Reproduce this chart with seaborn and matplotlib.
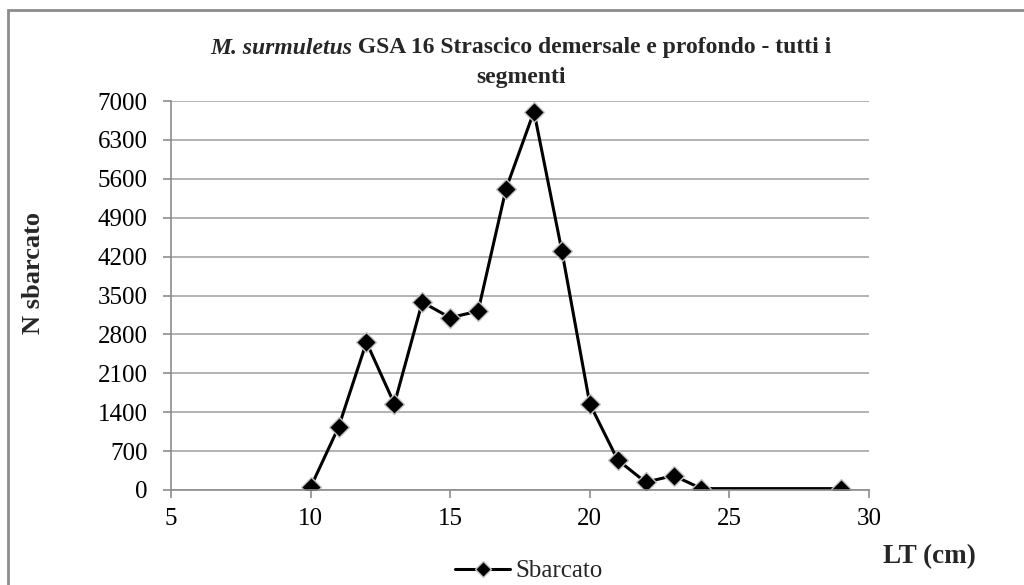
import matplotlib
matplotlib.use("Agg")
import matplotlib.pyplot as plt
import seaborn as sns
import pandas as pd
from matplotlib.patches import Rectangle
from matplotlib.lines import Line2D

lt_cm = [10, 11, 12, 13, 14, 15, 16, 17, 18, 19, 20, 21, 22, 23, 24, 29]
n_sbarcato = [50, 1130, 2660, 1550, 3380, 3100, 3220, 5420, 6810, 4300, 1550, 540, 140, 260, 25, 25]
series_name = "Sbarcato"
x_ticks = [5, 10, 15, 20, 25, 30]
y_ticks = [0, 700, 1400, 2100, 2800, 3500, 4200, 4900, 5600, 6300, 7000]

sns.set_theme(style="white")
plt.rcParams['font.family'] = ['Liberation Serif', 'DejaVu Serif']

df = pd.DataFrame({"LT": lt_cm, "N": n_sbarcato, "serie": series_name})

fig = plt.figure(figsize=(10.24, 5.85), dpi=100)
ax = fig.add_axes([171/1024, 1-490/585, (869-171)/1024, (490-101)/585])

sns.lineplot(data=df, x="LT", y="N", hue="serie", palette=["black"], ax=ax,
             marker="D", markersize=10.5, markeredgecolor="#c4c4c4", markeredgewidth=1.0,
             linewidth=2.2, legend=False)

ax.set_xlim(5, 30)
ax.set_ylim(0, 7000)
ax.set_xticks(x_ticks)
ax.set_yticks(y_ticks)
ax.set_xticklabels([str(v) for v in x_ticks], fontsize=18)
ax.set_yticklabels([str(v) for v in y_ticks], fontsize=18)
ax.yaxis.grid(True, color="#a6a6a6", linewidth=1.2)
ax.xaxis.grid(False)
for s in ["top", "right"]:
    ax.spines[s].set_visible(False)
for s in ["left", "bottom"]:
    ax.spines[s].set_color("#8c8c8c")
    ax.spines[s].set_linewidth(1.2)
ax.tick_params(axis="both", direction="out", length=6, color="#8c8c8c", width=1.2,
               left=True, bottom=True, labelcolor="black")
ax.tick_params(axis="y", pad=11)
ax.tick_params(axis="x", pad=7)
ax.set_xlabel("")
ax.set_ylabel("")

fig.text(34/1024, 1-273/585, "N sbarcato", rotation=90, fontsize=19, fontweight="bold",
         ha="center", va="center")
fig.text(929/1024, 1-557/585, "LT (cm)", fontsize=19.5, fontweight="bold",
         ha="center", va="center")

handle = Line2D([], [], color="black", linewidth=2.2, marker="D", markersize=8,
                markeredgecolor="#c4c4c4")
fig.legend([handle], [series_name], loc="center left", bbox_to_anchor=(455/1024, 1-571/585),
           frameon=False, fontsize=18, handlelength=2.2, handletextpad=0.2,
           borderpad=0, borderaxespad=0)

# title with italic species name
fig.canvas.draw()
renderer = fig.canvas.get_renderer()
cx = 521/1024
y1 = 1-48/585
t_it = fig.text(0, y1, "M. surmuletus", fontsize=17, fontweight="bold", fontstyle="italic",
                ha="left", va="center")
t_rest = fig.text(0, y1, " GSA 16 Strascico demersale e profondo - tutti i", fontsize=17,
                  fontweight="bold", ha="left", va="center")
w1 = t_it.get_window_extent(renderer).width / fig.bbox.width
w2 = t_rest.get_window_extent(renderer).width / fig.bbox.width
start = cx - (w1 + w2) / 2
t_it.set_x(start)
t_rest.set_x(start + w1)
fig.text(cx, 1-77/585, "segmenti", fontsize=17, fontweight="bold", ha="center", va="center")

# chart-area border (left and top visible)
fig.patches.append(Rectangle((8/1024, -0.05), 1.2, 1-10/585+0.05, transform=fig.transFigure,
                             fill=False, edgecolor="#8c8c8c", linewidth=2))

fig.savefig("out.png", dpi=100)
